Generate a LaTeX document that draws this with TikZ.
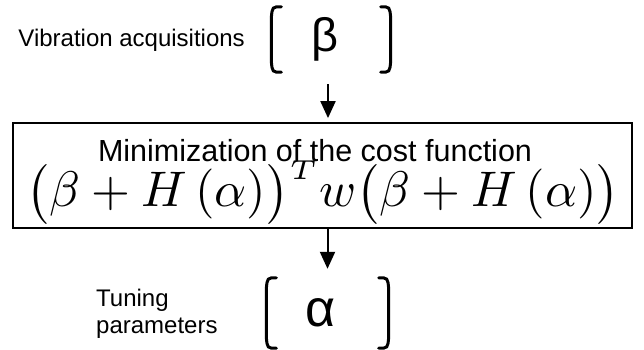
\RequirePackage{fix-cm}
\documentclass[tikz,border=0pt]{standalone}
\usepackage{graphicx}
\usepackage{fontspec}
\setmainfont{Liberation Sans}
\usetikzlibrary{arrows.meta,positioning}

% a tall pair of round-cornered brackets around a node
\newcommand{\bracketpair}[1]{%
	\draw[brk] ([xshift=10pt]#1.north west) .. controls ([xshift=1pt]#1.north west) .. ([yshift=-11pt]#1.north west)
		-- ([yshift=11pt]#1.south west) .. controls ([xshift=1pt]#1.south west) .. ([xshift=10pt]#1.south west);
	\draw[brk] ([xshift=-10pt]#1.north east) .. controls ([xshift=-1pt]#1.north east) .. ([yshift=-11pt]#1.north east)
		-- ([yshift=11pt]#1.south east) .. controls ([xshift=-1pt]#1.south east) .. ([xshift=-10pt]#1.south east);}
% one factor of the cost, between tall parentheses
\newcommand{\costterm}{\bigl(\beta + H\,(\alpha)\bigr)}

\tikzset{
	note/.style={font=\fontsize{24}{27}\selectfont, inner sep=0pt},
	greek/.style={inner sep=0pt, minimum width=119pt},
	brk/.style={line width=3pt, line cap=round},
	flow/.style={line width=2pt, -{Triangle[length=17pt,width=15pt]}},
}

\begin{document}
\begin{tikzpicture}[x=1pt,y=1pt]
	\useasboundingbox (0,0) rectangle (644,349);
	\node[note, anchor=base east] (vibtxt) at (245,302) {Vibration acquisitions};
	\node[greek, minimum height=65pt, font=\fontsize{47}{50}\selectfont] (beta) at (331,309.5) {\raisebox{-12pt}{β}\hspace*{12pt}};
	\bracketpair{beta}
	\node[draw, line width=1.8pt, inner sep=0pt, minimum width=619pt, minimum height=105pt] (box) at (322.5,173.5) {};
	\node[anchor=base, inner sep=0pt, font=\fontsize{30.5}{32}\selectfont] (title) at (315,188) {Minimization of the cost function};
	\node[anchor=base, inner sep=0pt, font=\fontsize{10}{12}\selectfont] (cost) at (323,142.5)
		{\scalebox{5.0}{$\costterm^{\lower 0.6pt\hbox{\fontsize{5.5}{6}\selectfont$T$}} w\costterm$}};
	\node[greek, minimum height=70pt, minimum width=122pt, font=\fontsize{52}{54}\selectfont] (alpha) at (327.5,36) {\raisebox{-5pt}{α}\hspace*{14pt}};
	\bracketpair{alpha}
	\node[note, align=left, anchor=west] (tuntxt) at (96,35.5) {Tuning\\parameters};
	\draw[flow, shorten <=12pt, shorten >=4pt] ([xshift=-3pt]beta.south) -- ([xshift=-3pt]beta.south |- box.north);
	\draw[flow, shorten >=9pt] (alpha.north |- box.south) -- (alpha.north);
\end{tikzpicture}
\end{document}
